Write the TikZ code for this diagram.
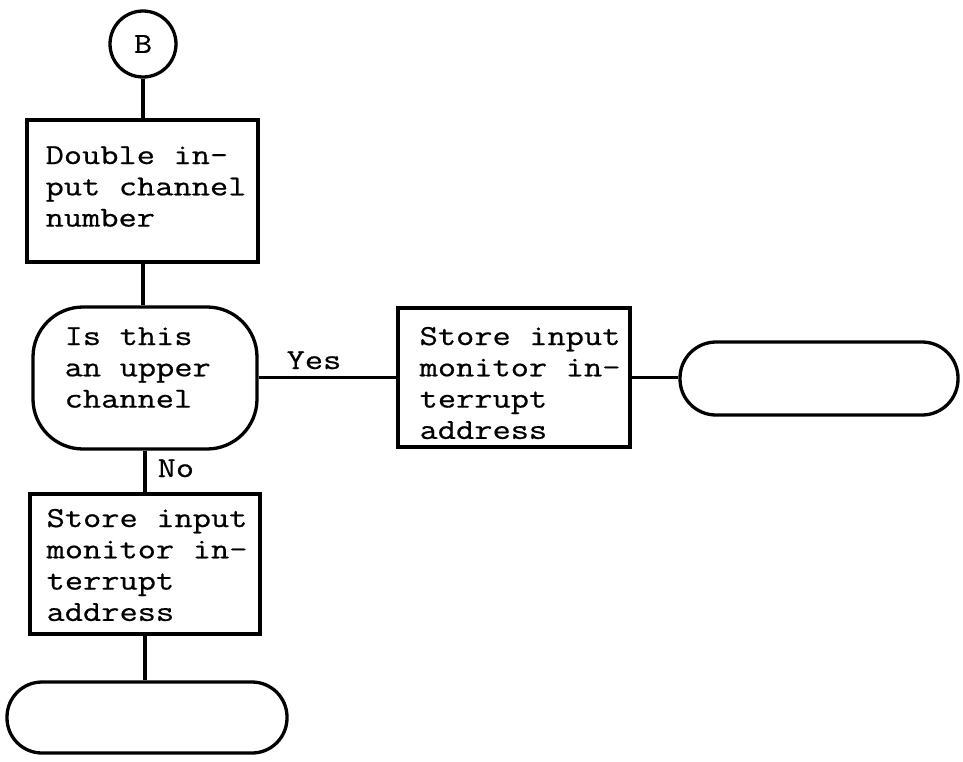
\documentclass[tikz,border=0pt]{standalone}
\usepackage{fontspec}
\newfontfamily\twfont[FakeStretch=1.22,FakeBold=0.6]{Latin Modern Mono}
\newcommand\twsel{\twfont\fontsize{29}{31.3}\selectfont}
\newcommand\tsp{\hspace*{18.6pt}}
\begin{document}
\begin{tikzpicture}[x=1pt,y=-1pt,
  line width=3.3pt,
  shapebox/.style={draw, rectangle, inner sep=0pt},
  termbox/.style={draw, rectangle, inner sep=0pt},
  txt/.style={inner sep=0pt, anchor=base west, align=left, text width=300pt,
    font=\twsel},
  lbl/.style={inner sep=0pt, anchor=base west, font=\twsel}
]
\path[use as bounding box, fill=white] (0,0) rectangle (963,761);

% connector circle
\node[draw, circle, minimum size=66pt, inner sep=0pt, font=\twsel] (B) at (143,44) {B};

% boxes
\node[shapebox, minimum width=231pt, minimum height=142pt] (box1) at (142.5,191) {};
\node[shapebox, rounded corners=50pt, minimum width=224pt, minimum height=142pt] (dec) at (145,378) {};
\node[shapebox, minimum width=232pt, minimum height=139pt] (box3) at (514,377.5) {};
\node[termbox, rounded corners=36pt, minimum width=278pt, minimum height=73pt] (term1) at (819,378.5) {};
\node[shapebox, minimum width=230pt, minimum height=140pt] (box2) at (145,564) {};
\node[termbox, rounded corners=35pt, minimum width=280pt, minimum height=71pt] (term2) at (147,717.5) {};

% texts
\node[txt] (t1) at (44,164) {Double\tsp in-\\put\tsp channel\\number};
\node[txt] (t2) at (63,345) {Is\tsp this\\an\tsp upper\\channel};
\node[txt] (t3) at (418,345) {Store\tsp input\\monitor\tsp in-\\terrupt\\address};
\node[txt] (t4) at (45,527) {Store\tsp input\\monitor\tsp in-\\terrupt\\address};

% connectors
\draw (B.south) -- (B.south |- box1.north);
\draw (box1.south -| B.south) -- (B.south |- dec.north);
\draw (dec.east |- box3.west) -- (box3.west);
\draw (box3.east) -- (box3.east -| term1.west);
\draw (dec.south) -- (dec.south |- box2.north);
\draw (box2.south) -- (box2.south |- term2.north);

% labels
\node[lbl] (yes) at (285,369) {Yes};
\node[lbl] (no) at (156,477) {No};
\end{tikzpicture}
\end{document}
